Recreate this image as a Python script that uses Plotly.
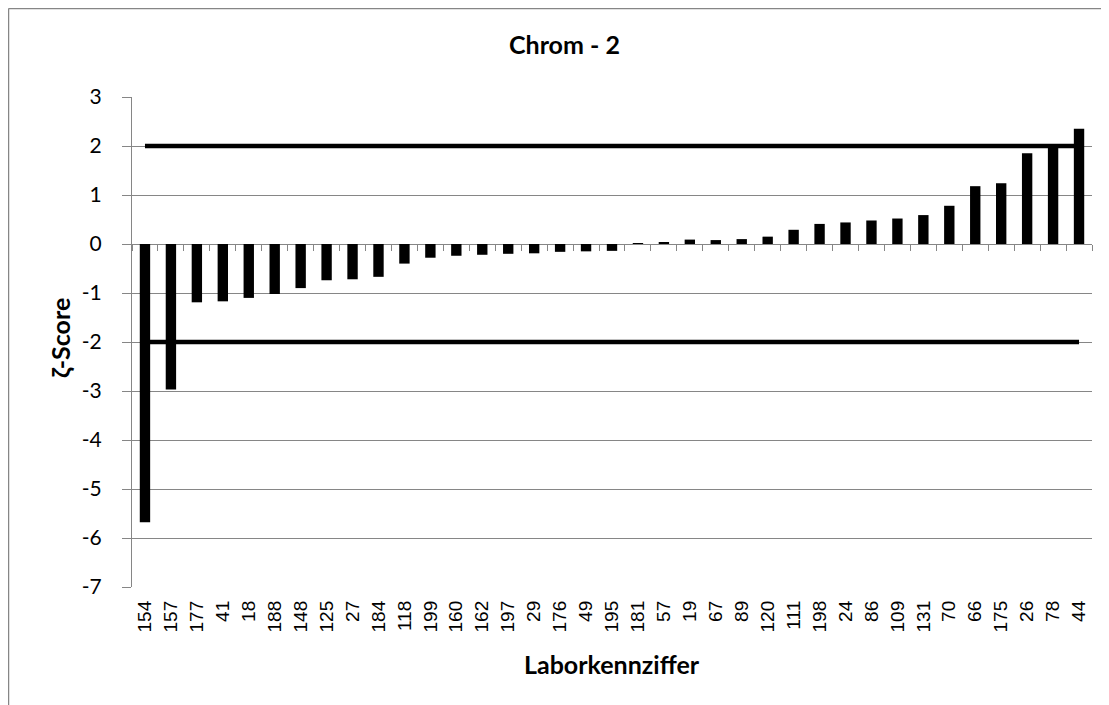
import plotly.graph_objects as go

labs = ["154", "157", "177", "41", "18", "188", "148", "125", "27", "184",
        "118", "199", "160", "162", "197", "29", "176", "49", "195", "181",
        "57", "19", "67", "89", "120", "111", "198", "24", "86", "109",
        "131", "70", "66", "175", "26", "78", "44"]
zeta = [-5.68, -2.97, -1.19, -1.17, -1.10, -1.02, -0.90, -0.74, -0.72, -0.67,
        -0.40, -0.28, -0.24, -0.22, -0.20, -0.19, -0.16, -0.15, -0.14, 0.02,
        0.04, 0.09, 0.08, 0.10, 0.15, 0.29, 0.41, 0.44, 0.48, 0.52,
        0.59, 0.78, 1.18, 1.24, 1.85, 1.97, 2.35]
upper_limit = [2] * len(labs)
lower_limit = [-2] * len(labs)
y_ticks = [3, 2, 1, 0, -1, -2, -3, -4, -5, -6, -7]
y_tick_text = ["3", "2", "1", "0", "-1", "-2", "-3", "-4", "-5", "-6", "-7"]

# page offset of the plotly div inside the browser window (body margin)
OFF = 8
W, H = 1109, 705
# plot area in window pixels
PL, PR, PT, PB = 132, 1092, 97, 587
L, T = PL - OFF, PT - OFF
R, B = W - (PR - OFF), H - (PB - OFF)
PW, PH = PR - PL, PB - PT


def px(x):
    return (x - PL) / PW


def py(y):
    return (PB - y) / PH


GRAY = "#868686"
TXT = "Lato"

fig = go.Figure()
fig.add_trace(go.Bar(x=labs, y=zeta, marker=dict(color="black", line=dict(width=0)),
                     showlegend=False))
fig.add_trace(go.Scatter(x=labs, y=upper_limit, mode="lines", xaxis="x2",
                         line=dict(color="black", width=4.5), showlegend=False))
fig.add_trace(go.Scatter(x=labs, y=lower_limit, mode="lines", xaxis="x2",
                         line=dict(color="black", width=4.5), showlegend=False))

fig.update_layout(
    width=W, height=H,
    margin=dict(l=L, r=R, t=T, b=B, pad=0),
    paper_bgcolor="white", plot_bgcolor="white",
    bargap=0.6,
    xaxis=dict(type="category", categoryorder="array", categoryarray=labs,
               range=[-0.5, len(labs) - 0.5], showgrid=False, showline=False,
               zeroline=False, ticks="", tickangle=-90,
               tickfont=dict(family="Liberation Sans, Arial", size=19, color="black"),
               ticklabelstandoff=9),
    xaxis2=dict(type="category", categoryorder="array", categoryarray=labs,
                overlaying="x", anchor="free", position=0.7, side="bottom",
                range=[-0.5, len(labs) - 0.5], showgrid=False, showline=False,
                zeroline=False, showticklabels=False, ticks="outside",
                tickson="boundaries", ticklen=6, tickcolor=GRAY, tickwidth=1),
    yaxis=dict(range=[-7, 3], tickmode="array", tickvals=y_ticks, ticktext=y_tick_text,
               showgrid=True, gridcolor=GRAY, gridwidth=1, zeroline=False,
               showline=True, linecolor=GRAY, linewidth=1, ticks="outside",
               ticklen=9, tickcolor=GRAY,
               tickfont=dict(family=TXT, size=21, color="black"),
               ticklabelstandoff=16),
    annotations=[
        dict(text="<b>Chrom - 2</b>", xref="paper", yref="paper", x=px(564), y=py(44),
             xanchor="center", yanchor="middle", showarrow=False,
             font=dict(family=TXT, size=25, color="black")),
        dict(text="<b>ζ-Score</b>", xref="paper", yref="paper", x=px(60), y=py(338),
             xanchor="center", yanchor="middle", showarrow=False, textangle=-90,
             font=dict(family=TXT, size=25, color="black")),
        dict(text="<b>Laborkennziffer</b>", xref="paper", yref="paper", x=px(612),
             y=py(664), xanchor="center", yanchor="middle", showarrow=False,
             font=dict(family=TXT, size=25, color="black")),
    ],
    shapes=[
        dict(type="line", xref="paper", yref="paper", x0=px(OFF + 0.5), x1=px(OFF + 0.5),
             y0=py(OFF + H), y1=py(OFF + 0.5), line=dict(color=GRAY, width=1.5)),
        dict(type="line", xref="paper", yref="paper", x0=px(OFF + 0.5), x1=px(OFF + W),
             y0=py(OFF + 0.5), y1=py(OFF + 0.5), line=dict(color=GRAY, width=1.5)),
    ],
)

fig.write_html("out.html")
